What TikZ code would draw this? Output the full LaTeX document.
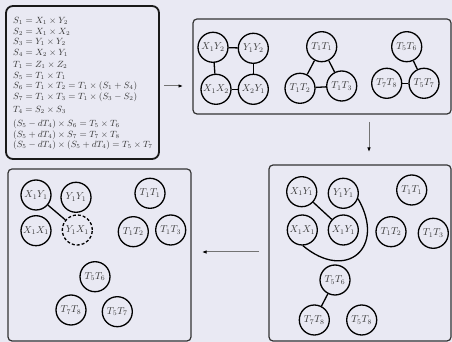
\documentclass[tikz,border=0pt]{standalone}
\usetikzlibrary{arrows.meta}
\definecolor{bg}{RGB}{233,233,243}
\definecolor{txt}{RGB}{55,55,55}
\begin{document}
\begin{tikzpicture}[x=1pt,y=1pt,
  v/.style={circle,draw=black,line width=1.3pt,minimum size=30pt,inner sep=0pt,text=txt,font=\fontsize{10}{12}\selectfont},
  vd/.style={v,dash pattern=on 3pt off 2pt},
  e/.style={line width=1.3pt,draw=black},
  eq/.style={anchor=base west,inner sep=0pt,text=txt,font=\fontsize{8.6}{10}\selectfont},
  panel/.style={draw=black!80,line width=1.2pt,rounded corners=4pt},
  flow/.style={draw=black!55,line width=1pt,-{Latex[length=4.5pt,width=3.5pt,color=black]}}]
\fill[bg] (0,0) rectangle (452,342);
\useasboundingbox (0,0) rectangle (452,342);

% panels
\draw[panel,draw=black!90,line width=1.8pt,rounded corners=7pt] (6,336) rectangle (159,183);
\draw[panel] (193,323) rectangle (451,228);
\draw[panel] (269,177) rectangle (451,1);
\draw[panel] (8,173) rectangle (191,1);

% equations
\node[eq] (e1) at (13,318) {$S_1 = X_1 \times Y_2$};
\node[eq] (e2) at (13,307.5) {$S_2 = X_1 \times X_2$};
\node[eq] (e3) at (13,297) {$S_3 = Y_1 \times Y_2$};
\node[eq] (e4) at (13,286.5) {$S_4 = X_2 \times Y_1$};
\node[eq] (e5) at (13,274) {$T_1 = Z_1 \times Z_2$};
\node[eq] (e6) at (13,263.5) {$S_5 = T_1 \times T_1$};
\node[eq] (e7) at (13,253) {$S_6 = T_1 \times T_2 = T_1 \times (S_1 + S_4)$};
\node[eq] (e8) at (13,242.5) {$S_7 = T_1 \times T_3 = T_1 \times (S_3 - S_2)$};
\node[eq] (e9) at (13,229) {$T_4 = S_2 \times S_3$};
\node[eq] (e10) at (13,215) {$(S_5 - dT_4) \times S_6 = T_5 \times T_6$};
\node[eq] (e11) at (13,204.5) {$(S_5 + dT_4) \times S_7 = T_7 \times T_8$};
\node[eq] (e12) at (13,194) {$(S_5 - dT_4) \times (S_5 + dT_4) = T_5 \times T_7$};

% panel 2
\node[v] (p2a) at (213,294.7) {$X_1Y_2$};
\node[v] (p2b) at (253.3,293.7) {$Y_1Y_2$};
\node[v] (p2c) at (216,252.7) {$X_1X_2$};
\node[v] (p2d) at (253.3,252.7) {$X_2Y_1$};
\node[v] (p2e) at (321.7,295.3) {$T_1T_1$};
\node[v] (p2f) at (300,253.7) {$T_1T_2$};
\node[v] (p2g) at (341.7,256) {$T_1T_3$};
\node[v] (p2h) at (406.7,295.3) {$T_5T_6$};
\node[v] (p2i) at (386.7,258.7) {$T_7T_8$};
\node[v] (p2j) at (424,258.7) {$T_5T_7$};
\draw[e] (p2a) -- (p2b);
\draw[e] (p2a) -- (p2c);
\draw[e] (p2b) -- (p2d);
\draw[e] (p2c) -- (p2d);
\draw[e] (p2e) -- (p2f);
\draw[e] (p2e) -- (p2g);
\draw[e] (p2f) -- (p2g);
\draw[e] (p2h) -- (p2j);
\draw[e] (p2i) -- (p2j);

% panel 3
\node[v] (p3a) at (301.7,150.3) {$X_1Y_1$};
\node[v] (p3b) at (343.3,148.7) {$Y_1Y_1$};
\node[v] (p3c) at (302.3,112) {$X_1X_1$};
\node[v] (p3d) at (343.3,112) {$X_1Y_1$};
\node[v] (p3e) at (411.7,152) {$T_1T_1$};
\node[v] (p3f) at (391,110.3) {$T_1T_2$};
\node[v] (p3g) at (433.3,108.7) {$T_1T_3$};
\node[v] (p3h) at (335,62) {$T_5T_6$};
\node[v] (p3i) at (314.3,22) {$T_7T_8$};
\node[v] (p3j) at (361.7,22) {$T_5T_8$};
\draw[e] (p3a) -- (p3d);
\draw[e] (p3b.-20) to[out=-60,in=-40,looseness=2] (p3c.-88);
\draw[e] (p3h) -- (p3i);

% panel 4
\node[v] (p4a) at (36,147) {$X_1Y_1$};
\node[v] (p4b) at (76,144.7) {$Y_1Y_1$};
\node[v] (p4c) at (36,111.3) {$X_1X_1$};
\node[vd] (p4d) at (77.3,112) {$Y_1X_1$};
\node[v] (p4e) at (150,148.7) {$T_1T_1$};
\node[v] (p4f) at (133.3,110.3) {$T_1T_2$};
\node[v] (p4g) at (170.7,112) {$T_1T_3$};
\node[v] (p4h) at (95,65.3) {$T_5T_6$};
\node[v] (p4i) at (71,32) {$T_7T_8$};
\node[v] (p4j) at (117.3,30.3) {$T_5T_7$};
\draw[e] (p4a) -- (p4d);

% flow arrows
\coordinate (f1s) at (164,256);
\coordinate (f1e) at (183,256);
\coordinate (f2s) at (369,220);
\coordinate (f2e) at (369,190);
\coordinate (f3s) at (259,90);
\coordinate (f3e) at (202,90);
\draw[flow] (f1s) -- (f1e);
\draw[flow] (f2s) -- (f2e);
\draw[flow] (f3s) -- (f3e);
\end{tikzpicture}
\end{document}
